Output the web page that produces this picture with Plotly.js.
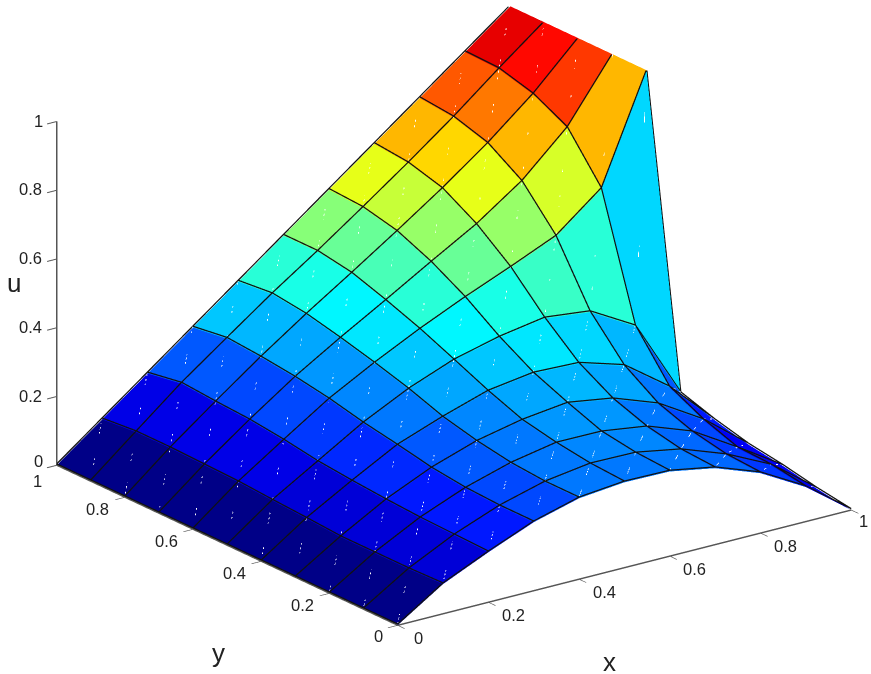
<!DOCTYPE html>
<html><head><meta charset="utf-8">
<script src="https://cdn.plot.ly/plotly-3.0.0.min.js"></script>
<style>html,body{margin:0;padding:0;background:#fff}#c{width:871px;height:674px}</style>
</head><body><div id="c"></div>
<script>
const xVals=[0,.1,.2,.3,.4,.5,.6,.7,.8,.9,1];
const yVals=[0,.1,.2,.3,.4,.5,.6,.7,.8,.9,1];
const u=[
[0,.086,.145,.199,.235,.248,.246,.222,.174,.10,0],
[0,.083,.148,.199,.235,.254,.252,.228,.18,.116,.015],
[0,.083,.151,.204,.243,.268,.267,.248,.20,.12,.035],
[0,.083,.157,.216,.26,.288,.304,.283,.235,.155,.05],
[0,.09,.165,.236,.284,.326,.345,.34,.30,.204,.075],
[0,.096,.175,.254,.319,.37,.403,.425,.41,.335,.107],
[0,.103,.191,.277,.348,.413,.472,.526,.583,.688,1],
[0,.106,.203,.294,.374,.45,.528,.604,.696,.819,1],
[0,.109,.209,.306,.397,.483,.571,.662,.76,.87,1],
[0,.109,.217,.314,.41,.50,.594,.69,.79,.897,1],
[0,.1,.2,.3,.4,.5,.6,.7,.8,.9,1]
];
const tickVals=[0,.2,.4,.6,.8,1];
const tickText=['0','0.2','0.4','0.6','0.8','1'];
function jet(v){
  const c=t=>Math.max(0,Math.min(1,t));
  const q=Math.min(63,Math.floor(v*64));
  const t=(q+.5)/64;
  const r=c(1.5-Math.abs(4*t-3)),g=c(1.5-Math.abs(4*t-2)),b=c(1.5-Math.abs(4*t-1));
  return `rgb(${Math.round(r*255)},${Math.round(g*255)},${Math.round(b*255)})`;
}
const nx=xVals.length,ny=yVals.length;
const X=[],Y=[],Z=[],I=[],J=[],K=[],FC=[];
for(let j=0;j<ny;j++)for(let i=0;i<nx;i++){X.push(xVals[i]);Y.push(yVals[j]);Z.push(u[j][i]);}
const id=(i,j)=>j*nx+i;
for(let j=0;j<ny-1;j++)for(let i=0;i<nx-1;i++){
  const col=jet(u[j][i]);
  I.push(id(i,j));J.push(id(i+1,j));K.push(id(i+1,j+1));FC.push(col);
  I.push(id(i,j));J.push(id(i+1,j+1));K.push(id(i,j+1));FC.push(col);
}
const lift=.004;
const lx=[],ly=[],lz=[];
for(let j=0;j<ny;j++){for(let i=0;i<nx;i++){lx.push(xVals[i]);ly.push(yVals[j]);lz.push(u[j][i]+lift);}lx.push(null);ly.push(null);lz.push(null);}
for(let i=0;i<nx;i++){for(let j=0;j<ny;j++){lx.push(xVals[i]);ly.push(yVals[j]);lz.push(u[j][i]+lift);}lx.push(null);ly.push(null);lz.push(null);}
const dx=[],dy=[],dz=[];
for(let j=0;j<ny-1;j++)for(let i=0;i<nx-1;i++){
  dx.push(xVals[i],xVals[i+1],null);dy.push(yVals[j],yVals[j+1],null);dz.push(u[j][i]+lift,u[j+1][i+1]+lift,null);
}
const FF='Liberation Sans, Arial, sans-serif';
const axis=()=>({title:{text:''},range:[0,1],tickvals:tickVals,ticktext:tickText,showticklabels:false,
  showgrid:false,zeroline:false,showbackground:false,showspikes:false,showline:true,linecolor:'#555',linewidth:3,
  ticks:'outside',ticklen:12,tickcolor:'#555',tickwidth:2});
const lab=(x,y,z,t,xs,ys)=>({x,y,z,text:t,showarrow:false,xanchor:'center',yanchor:'middle',xshift:xs,yshift:-ys,font:{family:FF,size:16.5,color:'#222'}});
const anns=[];
tickVals.forEach((v,k)=>{
  const t=tickText[k],one=t.length===1;
  anns.push(lab(v,0,0,t,one?(v?12:21):25,one?(v?11:13):13));
  anns.push(lab(0,v,0,t,one?-19:-27,one?(v?16:11):12));
  anns.push(lab(0,1,v,t,one?-18:-26,one?(v?0:-4):-1));
});
const d=3;
const e=[-.5566,-.7565,.3457];
const sc=365;
const cen={x:-.81*20/sc,y:.59*20/sc,z:-(23/sc)/.94};
const ttl=(x,y,t)=>({xref:'paper',yref:'paper',x:x/871,y:1-y/674,text:t,showarrow:false,xanchor:'center',yanchor:'middle',font:{family:FF,size:26,color:'#222'}});
Plotly.newPlot('c',[
 {type:'mesh3d',x:X,y:Y,z:Z,i:I,j:J,k:K,facecolor:FC,flatshading:true,hoverinfo:'skip',
  lighting:{ambient:1,diffuse:0,specular:0,fresnel:0,roughness:1},showscale:false},
 {type:'scatter3d',mode:'lines',x:dx,y:dy,z:dz,line:{color:'rgba(255,255,255,0.18)',width:1.5,dash:'dot'},hoverinfo:'skip',showlegend:false},
 {type:'scatter3d',mode:'lines',x:lx,y:ly,z:lz,line:{color:'#111',width:2.5},hoverinfo:'skip',showlegend:false}
],{
 width:871,height:674,margin:{l:0,r:0,t:0,b:0},paper_bgcolor:'#fff',showlegend:false,
 annotations:[ttl(218,653,'y'),ttl(609,662,'x'),ttl(14,283,'u')],
 scene:{domain:{x:[0,1],y:[0,1]},bgcolor:'#fff',aspectmode:'manual',aspectratio:{x:1.671,y:1.707,z:1.087},
  camera:{projection:{type:'orthographic'},up:{x:0,y:0,z:1},center:cen,eye:{x:e[0]*d+cen.x,y:e[1]*d+cen.y,z:e[2]*d+cen.z}},
  xaxis:axis(),yaxis:axis(),zaxis:axis(),annotations:anns}
},{displayModeBar:false});
</script></body></html>
